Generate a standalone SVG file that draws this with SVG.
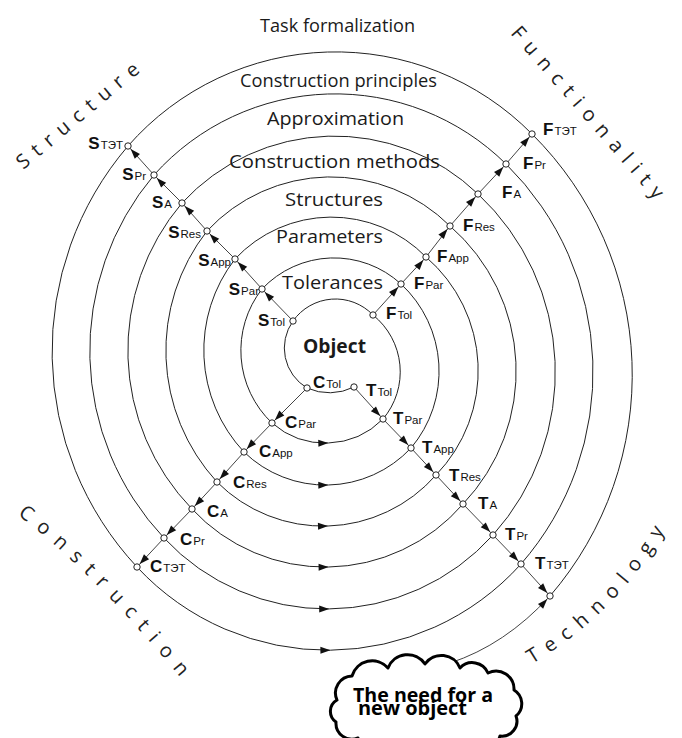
<svg xmlns="http://www.w3.org/2000/svg" width="682" height="738" viewBox="0 0 682 738">
<defs>
<style>
.ring{fill:none;stroke:#222;stroke-width:1}
.ax{fill:none;stroke:#444;stroke-width:1;marker-mid:url(#ah);marker-end:url(#ah)}
.pt{fill:#fff;stroke:#222;stroke-width:1}
.lbl{font-family:"Liberation Sans",Arial,sans-serif;fill:#111}
.m{font-size:17px;font-weight:bold}
.s{font-size:11.5px;font-weight:normal}
.band{font-family:"Open Sans","Liberation Sans",sans-serif;font-size:19px;fill:#1a1a1a}
.corner{font-family:"Open Sans","Liberation Sans",sans-serif;font-size:20px;fill:#222}
.cloudtxt{font-family:"Open Sans","Liberation Sans",sans-serif;font-size:20px;font-weight:bold;fill:#000}
</style>
<marker id="ah" viewBox="0 0 10 7" refX="14" refY="3.5" markerWidth="10" markerHeight="7" markerUnits="userSpaceOnUse" orient="auto" overflow="visible"><path d="M0,0 L10,3.5 L0,7 z" fill="#111"/></marker>
<marker id="am" viewBox="0 0 10 7" refX="10" refY="3.5" markerWidth="10" markerHeight="7" markerUnits="userSpaceOnUse" orient="auto" overflow="visible"><path d="M0,0 L10,3.5 L0,7 z" fill="#111"/></marker>
<path id="pcon" d="M17.5,515 Q85.6,564.5 180,677"/>
<path id="ptec" d="M532,664 A370,370 0 0 0 665,530"/>
</defs>
<rect width="682" height="738" fill="#fff"/>

<g id="rings">
<path class="ring" d="M293,321 A52,52 0 0 1 373,315"/>
<path class="ring" d="M262,289 A99,99 0 0 1 401,284"/>
<path class="ring" d="M235,259 A132,132 0 0 1 426,257"/>
<path class="ring" d="M207,231 A169,169 0 0 1 450,226"/>
<path class="ring" d="M182,203 A207,207 0 0 1 478,194"/>
<path class="ring" d="M154,175 A243,243 0 0 1 506,164"/>
<path class="ring" d="M128,146 A276,276 0 0 1 532,134"/>
<path class="ring" d="M293,321 A46.5,46.5 0 0 0 307,388"/>
<path class="ring" d="M262,289 A100,100 0 0 0 272,423"/>
<path class="ring" d="M235,259 A149,149 0 0 0 244,452"/>
<path class="ring" d="M207,231 A194.5,194.5 0 0 0 217,482"/>
<path class="ring" d="M182,203 A228,228 0 0 0 192,509"/>
<path class="ring" d="M154,175 A273,273 0 0 0 164,538"/>
<path class="ring" d="M128,146 A316,316 0 0 0 137,567"/>
<path class="ring" d="M373,315 A73,73 0 0 1 383,419"/>
<path class="ring" d="M401,284 A119,119 0 0 1 411,448"/>
<path class="ring" d="M426,257 A150,150 0 0 1 436,475"/>
<path class="ring" d="M450,226 A192.5,192.5 0 0 1 463,504"/>
<path class="ring" d="M478,194 A244,244 0 0 1 493,535"/>
<path class="ring" d="M506,164 A292,292 0 0 1 521,564"/>
<path class="ring" d="M532,134 A339,339 0 0 1 550,596"/>
<path class="ring" d="M307,388 A55,55 0 0 0 354,387"/>
<path class="ring" marker-end="url(#am)" d="M272,423 A81,81 0 0 0 328.3,443"/>
<path class="ring" d="M328.3,443 A81,81 0 0 0 383,419"/>
<path class="ring" marker-end="url(#am)" d="M244,452 A117,117 0 0 0 328.3,485"/>
<path class="ring" d="M328.3,485 A117,117 0 0 0 411,448"/>
<path class="ring" marker-end="url(#am)" d="M217,482 A150,150 0 0 0 328,526"/>
<path class="ring" d="M328,526 A150,150 0 0 0 436,475"/>
<path class="ring" marker-end="url(#am)" d="M192,509 A182,182 0 0 0 328.6,567"/>
<path class="ring" d="M328.6,567 A182,182 0 0 0 463,504"/>
<path class="ring" marker-end="url(#am)" d="M164,538 A223,223 0 0 0 329.2,608.9"/>
<path class="ring" d="M329.2,608.9 A223,223 0 0 0 493,535"/>
<path class="ring" marker-end="url(#am)" d="M137,567 A260,260 0 0 0 330.4,650.2"/>
<path class="ring" d="M330.4,650.2 A260,260 0 0 0 521,564"/>
</g>

<g id="connectors">
<path class="ax" d="M293,321 L262,289 L235,259 L207,231 L182,203 L154,175 L128,146"/>
<path class="ax" d="M373,315 L401,284 L426,257 L450,226 L478,194 L506,164 L532,134"/>
<path class="ax" d="M307,388 L272,423 L244,452 L217,482 L192,509 L164,538 L137,567"/>
<path class="ax" d="M354,387 L383,419 L411,448 L436,475 L463,504 L493,535 L521,564 L550,596"/>
<path fill="none" stroke="#444" stroke-width="1" marker-end="url(#ah)" d="M450,663 Q505,645 550,596"/>
</g>

<g id="band-labels">
<text id="lab-task" class="band" x="260" y="32" textLength="155" lengthAdjust="spacingAndGlyphs">Task formalization</text>
<text id="lab-principles" class="band" x="240" y="87" textLength="197" lengthAdjust="spacingAndGlyphs" fill="#333">Construction principles</text>
<text id="lab-approx" class="band" x="267" y="125" textLength="137" lengthAdjust="spacingAndGlyphs">Approximation</text>
<text id="lab-methods" class="band" x="229" y="168" textLength="211" lengthAdjust="spacingAndGlyphs">Construction methods</text>
<text id="lab-structures" class="band" x="285" y="206" textLength="98" lengthAdjust="spacingAndGlyphs">Structures</text>
<text id="lab-parameters" class="band" x="276" y="243" textLength="107" lengthAdjust="spacingAndGlyphs">Parameters</text>
<text id="lab-tolerances" class="band" x="282" y="289" textLength="101" lengthAdjust="spacingAndGlyphs">Tolerances</text>
<text id="lab-object" class="band" x="303" y="353" font-size="21" font-weight="bold" textLength="63" lengthAdjust="spacingAndGlyphs">Object</text>
</g>

<g id="corner-labels">
<text class="corner" transform="translate(23.3,170) rotate(-40)" letter-spacing="8.3">Structure</text>
<text class="corner" transform="translate(510,33.4) rotate(49)" letter-spacing="8.5">Functionality</text>
<text class="corner" letter-spacing="10"><textPath href="#pcon">Construction</textPath></text>
<text class="corner" letter-spacing="9.3"><textPath href="#ptec">Technology</textPath></text>
</g>

<g id="S-nodes">
<g id="S-Tol"><circle class="pt" cx="293" cy="321" r="3.2"/><text class="lbl" x="285" y="326" text-anchor="end"><tspan class="m">S</tspan><tspan class="s" dx="1">Tol</tspan></text></g>
<g id="S-Par"><circle class="pt" cx="262" cy="289" r="3.2"/><text class="lbl" x="259" y="295" text-anchor="end"><tspan class="m">S</tspan><tspan class="s" dx="1">Par</tspan></text></g>
<g id="S-App"><circle class="pt" cx="235" cy="259" r="3.2"/><text class="lbl" x="231" y="266" text-anchor="end"><tspan class="m">S</tspan><tspan class="s" dx="1">App</tspan></text></g>
<g id="S-Res"><circle class="pt" cx="207" cy="231" r="3.2"/><text class="lbl" x="201" y="238" text-anchor="end"><tspan class="m">S</tspan><tspan class="s" dx="1">Res</tspan></text></g>
<g id="S-A"><circle class="pt" cx="182" cy="203" r="3.2"/><text class="lbl" x="172" y="208" text-anchor="end"><tspan class="m">S</tspan><tspan class="s" dx="1">A</tspan></text></g>
<g id="S-Pr"><circle class="pt" cx="154" cy="175" r="3.2"/><text class="lbl" x="146" y="180" text-anchor="end"><tspan class="m">S</tspan><tspan class="s" dx="1">Pr</tspan></text></g>
<g id="S-TET"><circle class="pt" cx="128" cy="146" r="3.2"/><text class="lbl" x="123" y="149" text-anchor="end"><tspan class="m">S</tspan><tspan class="s" dx="1">ТЭТ</tspan></text></g>
</g>

<g id="F-nodes">
<g id="F-Tol"><circle class="pt" cx="373" cy="315" r="3.2"/><text class="lbl" x="386" y="319"><tspan class="m">F</tspan><tspan class="s" dx="1">Tol</tspan></text></g>
<g id="F-Par"><circle class="pt" cx="401" cy="284" r="3.2"/><text class="lbl" x="414" y="289"><tspan class="m">F</tspan><tspan class="s" dx="1">Par</tspan></text></g>
<g id="F-App"><circle class="pt" cx="426" cy="257" r="3.2"/><text class="lbl" x="437" y="262"><tspan class="m">F</tspan><tspan class="s" dx="1">App</tspan></text></g>
<g id="F-Res"><circle class="pt" cx="450" cy="226" r="3.2"/><text class="lbl" x="463" y="231"><tspan class="m">F</tspan><tspan class="s" dx="1">Res</tspan></text></g>
<g id="F-A"><circle class="pt" cx="478" cy="194" r="3.2"/><text class="lbl" x="502" y="198"><tspan class="m">F</tspan><tspan class="s" dx="1">A</tspan></text></g>
<g id="F-Pr"><circle class="pt" cx="506" cy="164" r="3.2"/><text class="lbl" x="523" y="169"><tspan class="m">F</tspan><tspan class="s" dx="1">Pr</tspan></text></g>
<g id="F-TET"><circle class="pt" cx="532" cy="134" r="3.2"/><text class="lbl" x="543" y="135"><tspan class="m">F</tspan><tspan class="s" dx="1">ТЭТ</tspan></text></g>
</g>

<g id="C-nodes">
<g id="C-Tol"><circle class="pt" cx="307" cy="388" r="3.2"/><text class="lbl" x="313" y="388"><tspan class="m">C</tspan><tspan class="s" dx="1">Tol</tspan></text></g>
<g id="C-Par"><circle class="pt" cx="272" cy="423" r="3.2"/><text class="lbl" x="285" y="428"><tspan class="m">C</tspan><tspan class="s" dx="1">Par</tspan></text></g>
<g id="C-App"><circle class="pt" cx="244" cy="452" r="3.2"/><text class="lbl" x="259" y="457"><tspan class="m">C</tspan><tspan class="s" dx="1">App</tspan></text></g>
<g id="C-Res"><circle class="pt" cx="217" cy="482" r="3.2"/><text class="lbl" x="233" y="488"><tspan class="m">C</tspan><tspan class="s" dx="1">Res</tspan></text></g>
<g id="C-A"><circle class="pt" cx="192" cy="509" r="3.2"/><text class="lbl" x="207" y="517"><tspan class="m">C</tspan><tspan class="s" dx="1">A</tspan></text></g>
<g id="C-Pr"><circle class="pt" cx="164" cy="538" r="3.2"/><text class="lbl" x="180" y="545"><tspan class="m">C</tspan><tspan class="s" dx="1">Pr</tspan></text></g>
<g id="C-TET"><circle class="pt" cx="137" cy="567" r="3.2"/><text class="lbl" x="150" y="572"><tspan class="m">C</tspan><tspan class="s" dx="1">ТЭТ</tspan></text></g>
</g>

<g id="T-nodes">
<g id="T-Tol"><circle class="pt" cx="354" cy="387" r="3.2"/><text class="lbl" x="366" y="396"><tspan class="m">T</tspan><tspan class="s" dx="1">Tol</tspan></text></g>
<g id="T-Par"><circle class="pt" cx="383" cy="419" r="3.2"/><text class="lbl" x="393" y="424"><tspan class="m">T</tspan><tspan class="s" dx="1">Par</tspan></text></g>
<g id="T-App"><circle class="pt" cx="411" cy="448" r="3.2"/><text class="lbl" x="422" y="453"><tspan class="m">T</tspan><tspan class="s" dx="1">App</tspan></text></g>
<g id="T-Res"><circle class="pt" cx="436" cy="475" r="3.2"/><text class="lbl" x="449" y="481"><tspan class="m">T</tspan><tspan class="s" dx="1">Res</tspan></text></g>
<g id="T-A"><circle class="pt" cx="463" cy="504" r="3.2"/><text class="lbl" x="478" y="509"><tspan class="m">T</tspan><tspan class="s" dx="1">A</tspan></text></g>
<g id="T-Pr"><circle class="pt" cx="493" cy="535" r="3.2"/><text class="lbl" x="505" y="540"><tspan class="m">T</tspan><tspan class="s" dx="1">Pr</tspan></text></g>
<g id="T-TET"><circle class="pt" cx="521" cy="564" r="3.2"/><text class="lbl" x="535" y="569"><tspan class="m">T</tspan><tspan class="s" dx="1">ТЭТ</tspan></text></g>
<g id="T-end"><circle class="pt" cx="550" cy="596" r="3.2"/></g>
</g>

<g id="cloud">
<path fill="#fff" stroke="#000" stroke-width="3" stroke-linejoin="round" d="M337,700 A17,17 0 0 1 352,676 A21,21 0 0 1 388,668 A21,21 0 0 1 425,664 A20,20 0 0 1 460,668 A17,17 0 0 1 488,673 A18,18 0 0 1 514,690 A16,16 0 0 1 516,716 A15,15 0 0 1 500,736 A18,18 0 0 1 470,744 A23,23 0 0 1 430,746 A22,22 0 0 1 392,744 A20,20 0 0 1 358,738 A16,16 0 0 1 336,722 A13,13 0 0 1 337,700 Z"/>
<text class="cloudtxt" x="353" y="702" textLength="140" lengthAdjust="spacingAndGlyphs">The need for a</text>
<text class="cloudtxt" x="358" y="715" textLength="109" lengthAdjust="spacingAndGlyphs">new object</text>
</g>
</svg>
